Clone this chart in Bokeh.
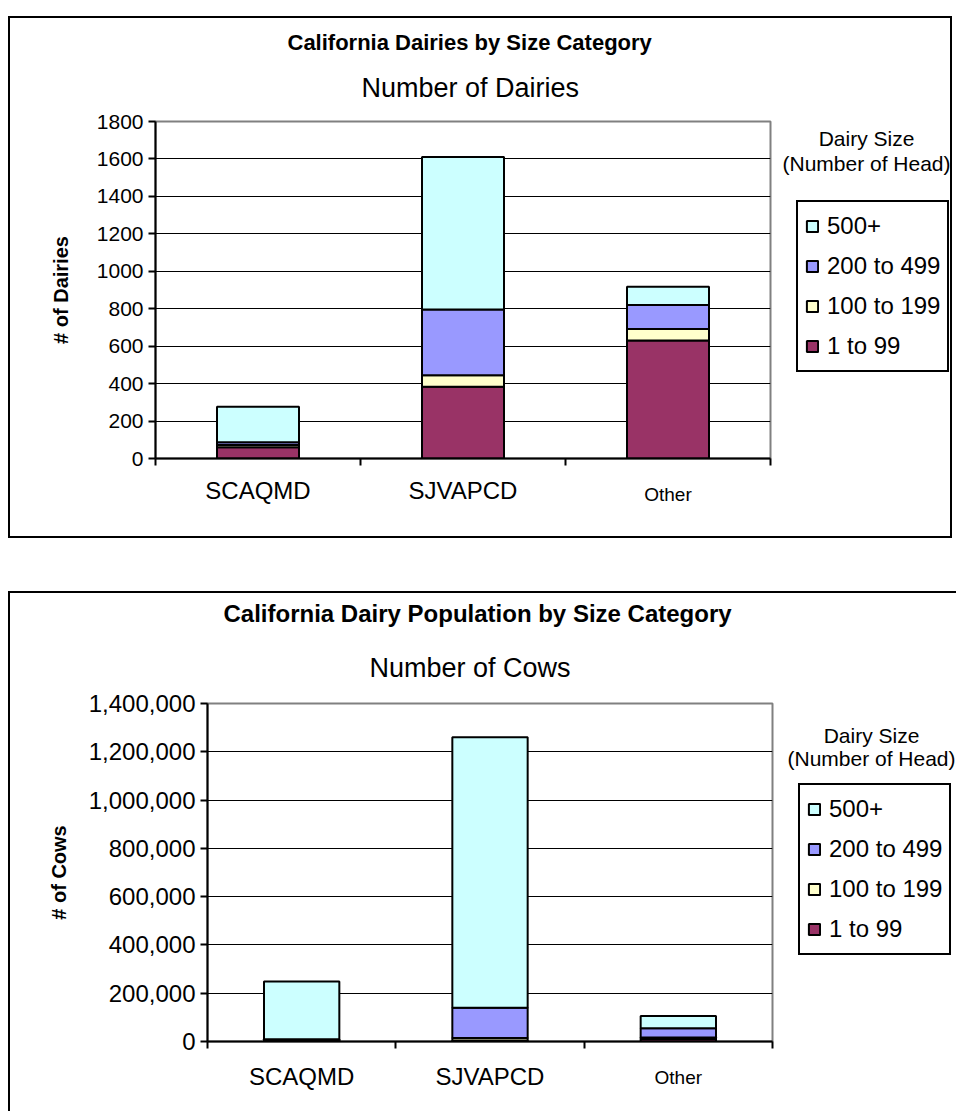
from bokeh.plotting import figure
from bokeh.models import (Range1d, FixedTicker, NumeralTickFormatter, LinearAxis,
                          BasicTickFormatter, ColumnDataSource, Label,
                          Legend, LegendItem, Title)
from bokeh.layouts import column, row
from bokeh.embed import file_html
from bokeh.resources import INLINE

FONT = "Liberation Sans"

# ---------------- data ----------------
regions = ["SCAQMD", "SJVAPCD", "Other"]
size_classes = ["1 to 99", "100 to 199", "200 to 499", "500+"]   # bottom -> top of stack
legend_heading = ["Dairy Size", "(Number of Head)"]

dairies_1_99 = [60, 383, 630]
dairies_100_199 = [12, 61, 62]
dairies_200_499 = [15, 352, 128]
dairies_500_plus = [190, 814, 97]

cows_1_99 = [3000, 4000, 10000]
cows_100_199 = [1800, 10000, 7000]
cows_200_499 = [5000, 126000, 38000]
cows_500_plus = [239000, 1120000, 51000]

dairy_ticks = [0, 200, 400, 600, 800, 1000, 1200, 1400, 1600, 1800]
cow_ticks = [0, 200000, 400000, 600000, 800000, 1000000, 1200000, 1400000]

# ---------------- styles ----------------
colors = ["#993366", "#FFFFCC", "#9999FF", "#CCFFFF"]
small_labels = ["Other"]          # drawn in a smaller font, as in the original


def style_axis(ax):
    ax.axis_line_color = "black"
    ax.axis_line_width = 2
    ax.major_tick_line_color = "black"
    ax.major_tick_line_width = 2
    ax.major_tick_out = 7
    ax.major_tick_in = 0
    ax.minor_tick_line_color = None


def make_chart(title, subtitle, ylabel, series, yticks, fmt, main_w, side_w,
               height, mb, tick_font, ylab_standoff, tick_standoff,
               row_styles, head_x, head_offsets, legend_loc,
               sub_standoff, title_standoff, title_font, title_offsets,
               cat_standoff, small_standoff):
    n = len(regions)
    centers = [i + 0.5 for i in range(n)]      # category slot centres
    edges = list(range(n + 1))                  # category slot boundaries
    src = ColumnDataSource(dict(
        region=regions, pos=centers,
        s0=series[0], s1=series[1], s2=series[2], s3=series[3],
    ))
    yr = Range1d(yticks[0], yticks[-1])

    # ---------- main plot ----------
    p = figure(x_range=Range1d(0, n), y_range=yr,
               width=main_w, height=height, title=None,
               toolbar_location=None, output_backend="svg",
               min_border_left=mb[0], min_border_right=mb[1],
               min_border_top=mb[2], min_border_bottom=mb[3])
    p.background_fill_color = "white"
    p.border_fill_color = "white"
    p.outline_line_color = "#808080"
    p.outline_line_width = 2

    p.vbar_stack(["s0", "s1", "s2", "s3"], x="pos", width=0.4,
                 fill_color=colors, line_color="black", line_width=2,
                 source=src)

    ya = p.yaxis[0]
    style_axis(ya)
    ya.ticker = FixedTicker(ticks=yticks)
    ya.formatter = fmt
    ya.major_label_text_font = FONT
    ya.major_label_text_font_size = tick_font
    ya.major_label_text_color = "black"
    ya.major_label_standoff = tick_standoff
    ya.axis_label = ylabel
    ya.axis_label_text_font = FONT
    ya.axis_label_text_font_style = "bold"
    ya.axis_label_text_font_size = "20px"
    ya.axis_label_text_color = "black"
    ya.axis_label_standoff = ylab_standoff

    p.ygrid.grid_line_color = "black"
    p.ygrid.grid_line_width = 1
    p.ygrid.ticker = FixedTicker(ticks=yticks)
    p.xgrid.visible = False

    # x axis: labels at slot centres, tick marks at slot boundaries
    xa = p.xaxis[0]
    style_axis(xa)
    xa.ticker = FixedTicker(ticks=centers, minor_ticks=edges)
    xa.major_tick_line_color = None
    xa.minor_tick_line_color = "black"
    xa.minor_tick_line_width = 2
    xa.minor_tick_out = 7
    xa.minor_tick_in = 0
    xa.major_label_overrides = {c: (r if r not in small_labels else "")
                                for c, r in zip(centers, regions)}
    xa.major_label_text_font = FONT
    xa.major_label_text_font_size = "24px"
    xa.major_label_text_color = "black"
    xa.major_label_standoff = cat_standoff

    xa2 = LinearAxis(ticker=FixedTicker(ticks=centers))
    xa2.axis_line_color = None
    xa2.major_tick_line_color = None
    xa2.minor_tick_line_color = None
    xa2.major_tick_out = 0
    xa2.major_label_overrides = {c: (r if r in small_labels else "")
                                 for c, r in zip(centers, regions)}
    xa2.major_label_text_font = FONT
    xa2.major_label_text_font_size = "19px"
    xa2.major_label_text_color = "black"
    xa2.major_label_standoff = small_standoff
    p.add_layout(xa2, "below")

    # titles (first added sits closest to the frame)
    p.add_layout(Title(text=subtitle, align="left", text_font=FONT,
                       text_font_size="27px", text_font_style="normal",
                       text_color="black", standoff=sub_standoff,
                       offset=title_offsets[1]), "above")
    p.add_layout(Title(text=title, align="left", text_font=FONT,
                       text_font_size=title_font, text_font_style="bold",
                       text_color="black", standoff=title_standoff,
                       offset=title_offsets[0]), "above")

    # ---------- side panel holding the legend ----------
    s = figure(x_range=Range1d(0, side_w), y_range=yr,
               width=side_w, height=height, title=None,
               toolbar_location=None, output_backend="svg",
               x_axis_location=None, y_axis_location=None,
               min_border_left=0, min_border_right=0,
               min_border_top=mb[2], min_border_bottom=mb[3])
    s.outline_line_color = None
    s.background_fill_color = "white"
    s.border_fill_color = "white"
    s.xgrid.visible = False
    s.ygrid.visible = False
    rs = s.vbar_stack(["s0", "s1", "s2", "s3"], x="pos", width=0.4,
                      fill_color=colors, line_color="black", line_width=2,
                      source=src)
    for r in rs:
        r.visible = False   # only used as legend swatches
    items = [LegendItem(label=size_classes[i], renderers=[rs[i]])
             for i in reversed(range(len(size_classes)))]
    leg = Legend(items=items, location=legend_loc, margin=0,
                 padding=7, spacing=6, label_height=34,
                 glyph_width=14, glyph_height=14, label_standoff=8,
                 label_text_font=FONT, label_text_font_size="24px",
                 label_text_color="black",
                 border_line_color="black", border_line_width=2,
                 border_line_alpha=1.0,
                 inactive_fill_alpha=0.0,
                 background_fill_color="white", background_fill_alpha=1)
    s.add_layout(leg)
    for txt, dy in zip(legend_heading, head_offsets):
        s.add_layout(Label(x=head_x, y=yticks[-1], y_offset=dy, text=txt,
                           text_font=FONT, text_font_size="21px",
                           text_align="center", text_baseline="middle",
                           text_color="black"))

    return row(p, s, styles=row_styles)


chart1 = make_chart("California Dairies by Size Category", "Number of Dairies",
                    "# of Dairies",
                    [dairies_1_99, dairies_100_199, dairies_200_499, dairies_500_plus],
                    dairy_ticks, BasicTickFormatter(),
                    main_w=762, side_w=178, height=518, mb=(145, 2, 103, 78),
                    tick_font="21px", ylab_standoff=22, tick_standoff=5,
                    row_styles={"border": "2px solid black"},
                    head_x=94, head_offsets=(-17, -42), legend_loc=(24, 86),
                    sub_standoff=37, title_standoff=-5, title_font="22px",
                    title_offsets=(132, 206), cat_standoff=11, small_standoff=-23)

chart2 = make_chart("California Dairy Population by Size Category", "Number of Cows",
                    "# of Cows",
                    [cows_1_99, cows_100_199, cows_200_499, cows_500_plus],
                    cow_ticks, NumeralTickFormatter(format="0,0"),
                    main_w=764, side_w=182, height=518, mb=(197, 2, 110, 70),
                    tick_font="24px", ylab_standoff=16, tick_standoff=5,
                    row_styles={"border-left": "2px solid black",
                                "border-top": "2px solid black"},
                    head_x=97, head_offsets=(-32, -55), legend_loc=(24, 86),
                    sub_standoff=41, title_standoff=8, title_font="24px",
                    title_offsets=(16, 162), cat_standoff=14, small_standoff=-26)

layout = column(chart1, chart2, spacing=53, styles={"margin": "16px 0 0 8px"})
open("out.html", "w").write(file_html(layout, INLINE))
